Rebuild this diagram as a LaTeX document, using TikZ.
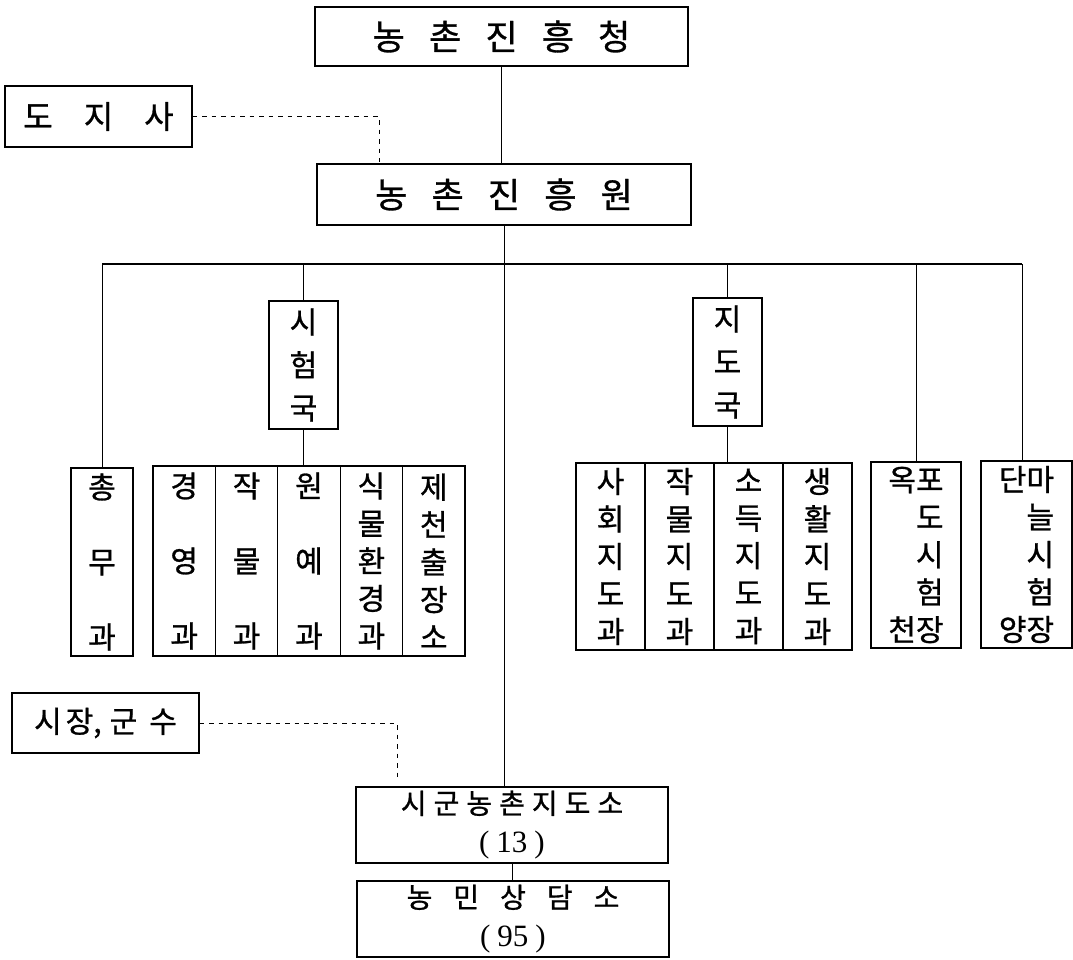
\documentclass[tikz,border=0pt]{standalone}
\usepackage{fontspec}
\setmainfont{Noto Sans CJK KR}[FakeBold=0.9]
\newfontfamily\numfont{Liberation Serif}
\newcommand{\gp}[1]{\hspace{#1}}
\begin{document}
\begin{tikzpicture}[x=1pt, y=-1pt,
  org box/.style={draw, rectangle, line width=1.1pt, inner sep=0pt, align=center},
  head box/.style={org box, font=\fontsize{35}{36}\selectfont},
  side box/.style={org box, font=\fontsize{32}{34}\selectfont},
  low box/.style={org box, font=\fontsize{28}{39}\selectfont},
  guk box/.style={org box, font=\fontsize{30}{43}\selectfont, minimum width=69pt, minimum height=128pt},
  col three/.style={org box, font=\fontsize{30}{75}\selectfont},
  col five/.style={org box, font=\fontsize{30}{37.5}\selectfont},
  bus line/.style={line width=1.4pt},
  dash link/.style={line width=0.9pt, dash pattern=on 4.5pt off 5pt}]
\useasboundingbox (0,0) rectangle (1073,960);
\begin{scope}
\node[head box, minimum width=373pt, minimum height=59pt] (cheong) at (501.5,36.5) {농\gp{0.69em}촌\gp{0.69em}진\gp{0.69em}흥\gp{0.69em}청};%top
\node[head box, minimum width=374pt, minimum height=61pt] (won) at (504,194.5) {농\gp{0.69em}촌\gp{0.69em}진\gp{0.69em}흥\gp{0.69em}원};
\node[side box, minimum width=187pt, minimum height=61pt] (doji) at (98.5,116.5) {도\gp{0.97em}지\gp{0.97em}사};
\node[side box, minimum width=187pt, minimum height=60pt, font=\fontsize{30}{33}\selectfont] (sijang) at (105.5,723) {시\gp{4pt}장,\gp{8pt}군\gp{12pt}수};
\node[guk box] (siheom) at (303.5,365) {시\\험\\국};
\node[guk box] (jido) at (727.5,362) {지\\도\\국};
%left columns
\node[col three, minimum width=62pt, minimum height=188pt] (chongmu) at (102,562) {총\\무\\과};
\node[col three, minimum width=62.4pt, minimum height=190pt] (sh1) at (184.2,561) {경\\영\\과};
\node[col three, minimum width=62.4pt, minimum height=190pt] (sh2) at (246.6,561) {작\\물\\과};
\node[col three, minimum width=62.4pt, minimum height=190pt] (sh3) at (309,561) {원\\예\\과};
\node[col five, minimum width=62.4pt, minimum height=190pt] (sh4) at (371.4,561) {식\\물\\환\\경\\과};
\node[col five, minimum width=62.4pt, minimum height=190pt] (sh5) at (433.8,561) {제\\천\\출\\장\\소};
%right columns
\node[col five, minimum width=69pt, minimum height=187pt] (jd1) at (610.5,556.5) {사\\회\\지\\도\\과};
\node[col five, minimum width=69pt, minimum height=187pt] (jd2) at (679.5,556.5) {작\\물\\지\\도\\과};
\node[col five, minimum width=69pt, minimum height=187pt] (jd3) at (748.5,556.5) {소\\득\\지\\도\\과};
\node[col five, minimum width=69pt, minimum height=187pt] (jd4) at (817.5,556.5) {생\\활\\지\\도\\과};
\node[col five, align=right, minimum width=90pt, minimum height=186pt] (okpo) at (916,555) {옥포\\도\\시\\험\\천장};
\node[col five, align=right, minimum width=91pt, minimum height=187pt] (danma) at (1026.5,554.5) {단마\\늘\\시\\험\\양장};
%bottom
\node[low box, minimum width=312pt, minimum height=76pt] (sigun) at (512,825) {시\gp{0.25em}군\gp{0.25em}농\gp{0.25em}촌\gp{0.25em}지\gp{0.25em}도\gp{0.25em}소\\{\numfont\fontsize{31}{39}\selectfont(\gp{7pt}13\gp{7pt})}};
\node[low box, minimum width=312pt, minimum height=76pt] (sangdam) at (513,919) {농\gp{0.75em}민\gp{0.75em}상\gp{0.75em}담\gp{0.75em}소\\{\numfont\fontsize{31}{39}\selectfont(\gp{7pt}95\gp{7pt})}};
\end{scope}
\coordinate (busL) at (102,264);
\coordinate (busR) at (1022,264);
\coordinate (dojiEnd) at (379,162);
\coordinate (sijangEnd) at (397,780);
\draw[bus line] (busL) -- (busR);
\begin{scope}[every edge/.style={draw=black, line width=0.6pt}]
\draw (cheong.south) edge (cheong.south |- won.north);
\draw (won.south) edge (won.south |- sigun.north);
\draw (busL) edge (chongmu.north);
\draw (siheom.north |- busL) edge (siheom.north);
\draw (jido.north |- busL) edge (jido.north);
\draw (okpo.north |- busL) edge (okpo.north);
\draw (busR) edge (busR |- danma.north);
\draw (siheom.south) edge (siheom.south |- sh3.north);
\draw (jido.south) edge (jido.south |- jd2.north);
\draw (sigun.south) edge (sigun.south |- sangdam.north);
\end{scope}
\draw[dash link] (doji.east) -| (dojiEnd);
\draw[dash link] (sijang.east) -| (sijangEnd);
\end{tikzpicture}
\end{document}
